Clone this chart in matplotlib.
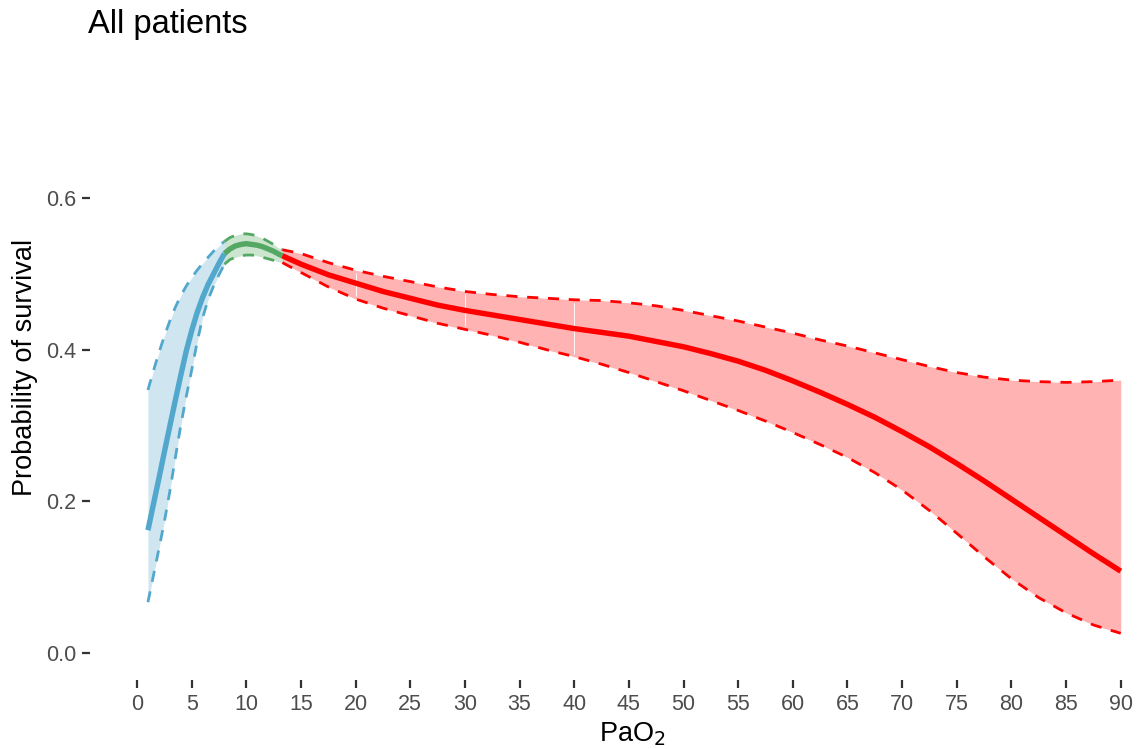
import matplotlib
matplotlib.use("Agg")
import matplotlib.pyplot as plt

plt.rcParams['font.family'] = ['Liberation Sans', 'DejaVu Sans']

# 구간별 예측 생존확률
blue_x = [1, 1.5, 2, 2.5, 3, 3.5, 4, 4.5, 5, 5.5, 6, 6.5, 7, 7.5, 8]
blue_fit = [0.162, 0.196, 0.230, 0.265, 0.299, 0.333, 0.366, 0.398, 0.425, 0.449, 0.469, 0.486, 0.500, 0.514, 0.527]
blue_lo = [0.067, 0.102, 0.137, 0.173, 0.213, 0.257, 0.300, 0.338, 0.373, 0.410, 0.442, 0.466, 0.484, 0.499, 0.513]
blue_hi = [0.347, 0.372, 0.396, 0.418, 0.438, 0.456, 0.471, 0.484, 0.495, 0.505, 0.514, 0.522, 0.530, 0.537, 0.543]

green_x = [8, 8.5, 9, 9.5, 10, 10.5, 11, 11.5, 12, 12.5, 13, 13.3]
green_fit = [0.527, 0.533, 0.537, 0.539, 0.540, 0.539, 0.538, 0.536, 0.533, 0.530, 0.526, 0.524]
green_lo = [0.513, 0.519, 0.522, 0.524, 0.525, 0.525, 0.524, 0.522, 0.520, 0.518, 0.516, 0.515]
green_hi = [0.543, 0.548, 0.551, 0.553, 0.553, 0.552, 0.550, 0.547, 0.543, 0.539, 0.534, 0.532]

red_x = [13.3, 15, 17.5, 20, 22.5, 25, 27.5, 30, 32.5, 35, 37.5, 40, 42.5, 45, 47.5, 50,
         52.5, 55, 57.5, 60, 62.5, 65, 67.5, 70, 72.5, 75, 77.5, 80, 82.5, 85, 87.5, 90]
red_fit = [0.524, 0.513, 0.499, 0.488, 0.477, 0.468, 0.459, 0.452, 0.446, 0.440, 0.434, 0.428,
           0.423, 0.418, 0.411, 0.404, 0.395, 0.385, 0.373, 0.359, 0.344, 0.328, 0.311, 0.292,
           0.272, 0.250, 0.227, 0.203, 0.179, 0.155, 0.131, 0.108]
red_lo = [0.515, 0.502, 0.483, 0.467, 0.455, 0.445, 0.435, 0.427, 0.419, 0.410, 0.400, 0.391,
          0.381, 0.370, 0.358, 0.346, 0.333, 0.320, 0.306, 0.291, 0.275, 0.258, 0.238, 0.215,
          0.188, 0.158, 0.127, 0.098, 0.073, 0.053, 0.037, 0.026]
red_hi = [0.532, 0.527, 0.515, 0.505, 0.497, 0.490, 0.483, 0.477, 0.473, 0.470, 0.468, 0.466,
          0.465, 0.462, 0.458, 0.452, 0.445, 0.438, 0.430, 0.422, 0.413, 0.405, 0.396, 0.387,
          0.378, 0.370, 0.364, 0.360, 0.358, 0.357, 0.358, 0.360]
red_seams = [20, 30, 40]

x_ticks = list(range(0, 91, 5))
y_ticks = [0.0, 0.2, 0.4, 0.6]

fig = plt.figure(figsize=(11.4, 7.49), dpi=100)
ax = fig.add_axes([90 / 1140, 69 / 749, 1040 / 1140, 557.6 / 749])

dash = (0, (4, 3.5))
segments = [
    (blue_x, blue_fit, blue_lo, blue_hi, "#52A7CD", "#CFE6F1"),
    (green_x, green_fit, green_lo, green_hi, "#55A864", "#CBE5CF"),
    (red_x, red_fit, red_lo, red_hi, "#FF0000", "#FFB3B3"),
]
for xs, fit, lo, hi, col, fill in segments:
    ax.fill_between(xs, lo, hi, color=fill, lw=0)
    ax.plot(xs, lo, color=col, lw=2.0, ls=dash)
    ax.plot(xs, hi, color=col, lw=2.0, ls=dash)

# 리본 경계의 흰 이음선
for s in red_seams:
    i = red_x.index(s)
    ax.vlines(s, red_lo[i] + 0.004, red_hi[i] - 0.004, color="white", lw=0.7, alpha=0.9)

for xs, fit, lo, hi, col, fill in segments:
    ax.plot(xs, fit, color=col, lw=3.9, solid_capstyle="butt")

ax.set_xlim(-4.3, 90.85)
ax.set_ylim(-0.0356, 0.70)
ax.set_xticks(x_ticks)
ax.set_yticks(y_ticks)
ax.set_yticklabels([f"{v:.1f}" for v in y_ticks])
for sp in ax.spines.values():
    sp.set_visible(False)
ax.tick_params(length=6, width=1.6, color="#333333", labelcolor="#4D4D4D", labelsize=15.5, pad=4)

ax.set_xlabel("PaO$_2$", fontsize=19.5)
ax.set_ylabel("Probability of survival", fontsize=19.5)
ax.xaxis.set_label_coords(0.521, -0.072)
ax.yaxis.set_label_coords(-0.050, 0.561)
fig.text(88 / 1140, 1 - 25 / 749, "All patients", fontsize=23.5, va="center", ha="left")

fig.savefig("out.png", dpi=100)
